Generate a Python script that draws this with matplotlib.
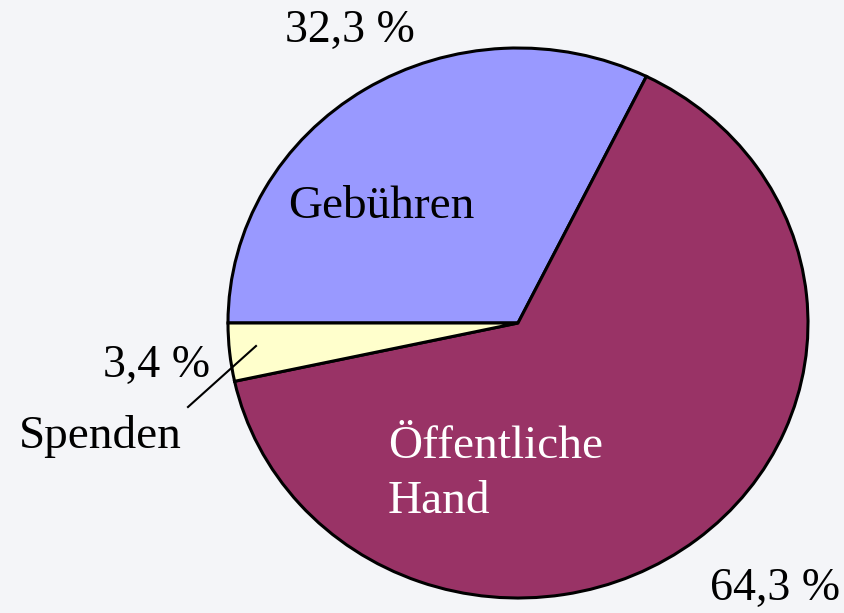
import matplotlib.pyplot as plt

# data
labels = ["Gebühren", "Öffentliche\nHand", "Spenden"]
shares = [32.3, 64.3, 3.4]
colors = ["#9999FF", "#993366", "#FFFFCC"]
pct_labels = ["32,3 %", "64,3 %", "3,4 %"]

plt.rcParams["font.family"] = ["Liberation Serif", "DejaVu Serif"]

fig = plt.figure(figsize=(8.45, 6.13), dpi=100)
fig.patch.set_facecolor("#F4F5F8")
ax = fig.add_axes([0, 0, 1, 1])
ax.set_facecolor("#F4F5F8")

# pie centre at (518, 323) px, slightly squashed: rx 290 px, ry 275 px
cx, cy, rx, ry = 518, 323, 290, 275
def px(x, y):
    return ((x - cx) / rx, (cy - y) / ry)

ax.pie(shares, colors=colors, startangle=180, counterclock=False, radius=1,
       wedgeprops=dict(edgecolor="black", linewidth=2.2))
ax.set_aspect("auto")
ax.set_xlim(-cx / rx, (845 - cx) / rx)
ax.set_ylim(-(613 - cy) / ry, cy / ry)
ax.axis("off")

fs = 34
ax.text(*px(381, 207), labels[0], fontsize=fs, ha="center", va="center", color="black")
ax.text(*px(388, 474), labels[1], fontsize=fs, ha="left", va="center", color="white",
        linespacing=1.4)
ax.text(*px(100, 437), labels[2], fontsize=fs, ha="center", va="center", color="black")

pfs = 33
ax.text(*px(350, 31), pct_labels[0], fontsize=pfs, ha="center", va="center")
ax.text(*px(775, 589), pct_labels[1], fontsize=pfs, ha="center", va="center")
ax.text(*px(157, 366), pct_labels[2], fontsize=pfs, ha="center", va="center")

# leader line for Spenden
x0, y0 = px(188, 407)
x1, y1 = px(256, 346)
ax.plot([x0, x1], [y0, y1], color="black", linewidth=1.5)

fig.savefig("out.png", dpi=100, facecolor=fig.get_facecolor())
